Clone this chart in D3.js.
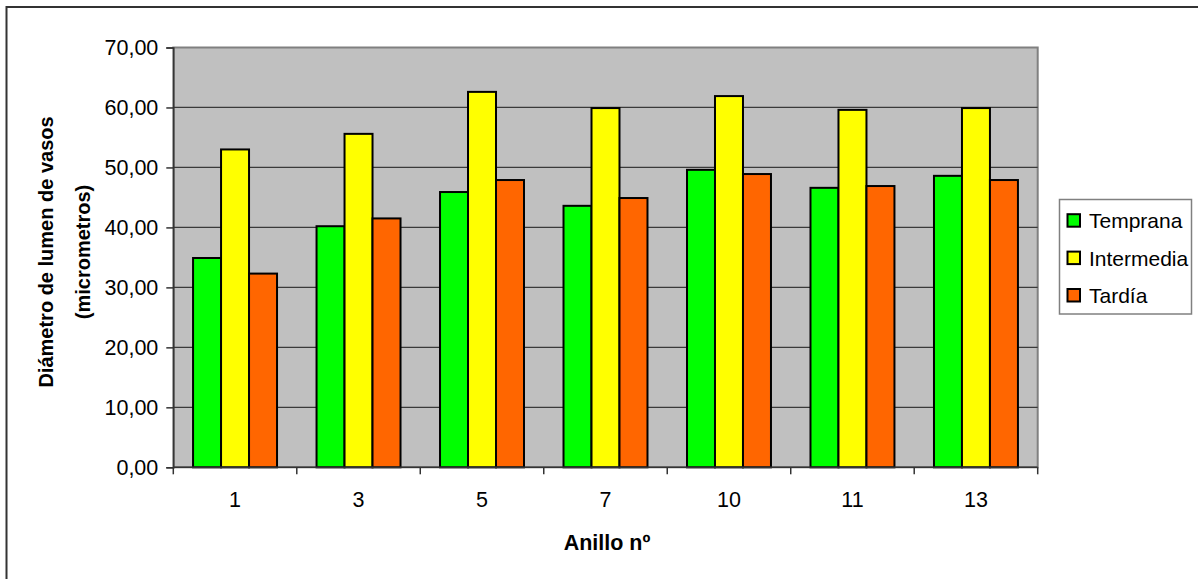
<!DOCTYPE html>
<html><head><meta charset="utf-8">
<script src="https://cdn.jsdelivr.net/npm/d3@7"></script>
<style>
html,body{margin:0;padding:0;background:#fff;}
text{font-family:"Liberation Sans",Arial,sans-serif;fill:#000;}
</style></head>
<body><svg id="c" width="1198" height="579"></svg>
<script>
const categories = ["1","3","5","7","10","11","13"];
const seriesNames = ["Temprana","Intermedia","Tardía"];
const temprana   = [34.9, 40.2, 45.9, 43.6, 49.6, 46.6, 48.6];
const intermedia = [53.0, 55.6, 62.6, 59.9, 61.9, 59.6, 59.9];
const tardia     = [32.3, 41.5, 47.9, 44.9, 48.9, 46.9, 47.9];
const yTicks = [0,10,20,30,40,50,60,70];
const colors = ["#00FF00","#FFFF00","#FF6600"];
const seriesValues = [temprana, intermedia, tardia];

const svg = d3.select("#c");
const L = 173.3, R = 1037.7, T = 47.5, B = 467.3;
const loc = d3.formatLocale({decimal:",", thousands:".", grouping:[3], currency:["","€"]});
const fmt = loc.format(".2f");

// outer chart border
svg.append("rect").attr("x",6.5).attr("y",7).attr("width",1205).attr("height",590)
  .attr("fill","none").attr("stroke","#333").attr("stroke-width",2);

const x0 = d3.scaleBand().domain(categories).range([L,R]).paddingInner(0).paddingOuter(0);
const bw = x0.bandwidth();
const grp = 0.68*bw;
const x1 = d3.scaleBand().domain(seriesNames).range([(bw-grp)/2,(bw+grp)/2]);
const y = d3.scaleLinear().domain([0,70]).range([B,T]);

// plot area
svg.append("rect").attr("x",L).attr("y",T).attr("width",R-L).attr("height",B-T)
  .attr("fill","#C0C0C0").attr("stroke","#808080").attr("stroke-width",2);

// gridlines
svg.append("g").selectAll("line").data(yTicks.filter(d=>d>0&&d<70)).join("line")
  .attr("x1",L).attr("x2",R).attr("y1",d=>y(d)).attr("y2",d=>y(d))
  .attr("stroke","#3a3a3a").attr("stroke-width",1.2);

// bars
const data = [];
categories.forEach((c,i)=>seriesNames.forEach((s,j)=>data.push({c,s,v:seriesValues[j][i],col:colors[j]})));
svg.append("g").selectAll("rect").data(data).join("rect")
  .attr("x",d=>x0(d.c)+x1(d.s)).attr("width",x1.bandwidth())
  .attr("y",d=>y(d.v)).attr("height",d=>y(0)-y(d.v))
  .attr("fill",d=>d.col).attr("stroke","#000").attr("stroke-width",2);

// y axis
const ya = svg.append("g").attr("transform",`translate(${L},0)`)
  .call(d3.axisLeft(y).tickValues(yTicks).tickFormat(fmt).tickSize(7).tickPadding(8));
ya.select(".domain").attr("stroke","#333").attr("stroke-width",1.5);
ya.selectAll(".tick line").attr("stroke","#333").attr("stroke-width",1.5);
ya.selectAll("text").attr("font-size",21.5).attr("font-family","Liberation Sans, Arial, sans-serif").attr("fill","#000");

// x axis labels
const xa = svg.append("g").attr("transform",`translate(0,${B})`)
  .call(d3.axisBottom(x0).tickSize(0).tickPadding(24));
xa.select(".domain").remove();
xa.selectAll("text").attr("font-size",21.5).attr("font-family","Liberation Sans, Arial, sans-serif").attr("fill","#000");
svg.append("line").attr("x1",L).attr("x2",R).attr("y1",B).attr("y2",B).attr("stroke","#333").attr("stroke-width",1.5);
// boundary ticks
const bounds = categories.map(c=>x0(c)).concat([R]);
svg.append("g").selectAll("line").data(bounds).join("line")
  .attr("x1",d=>d).attr("x2",d=>d).attr("y1",B).attr("y2",B+7)
  .attr("stroke","#333").attr("stroke-width",1.5);

// axis titles
svg.append("text").attr("x",607).attr("y",550).attr("text-anchor","middle")
  .attr("font-size",21.5).attr("font-weight","bold").text("Anillo nº");
const yt = svg.append("text").attr("transform","translate(53,252) rotate(-90)")
  .attr("text-anchor","middle").attr("font-size",20).attr("font-weight","bold");
yt.append("tspan").attr("x",0).attr("y",0).text("Diámetro de lumen de vasos");
yt.append("tspan").attr("x",0).attr("y",37).text("(micrometros)");

// legend
const lg = svg.append("g");
lg.append("rect").attr("x",1059.5).attr("y",199.5).attr("width",132).attr("height",114.5)
  .attr("fill","#fff").attr("stroke","#808080").attr("stroke-width",1.5);
const rowY = d3.scalePoint().domain(seriesNames).range([220.7,295.5]);
seriesNames.forEach((s,j)=>{
  lg.append("rect").attr("x",1067.5).attr("y",rowY(s)-6.5).attr("width",12.5).attr("height",12.5)
    .attr("fill",colors[j]).attr("stroke","#000").attr("stroke-width",2);
  lg.append("text").attr("x",1089).attr("y",rowY(s)+7.5).attr("font-size",21).text(s);
});
</script></body></html>
